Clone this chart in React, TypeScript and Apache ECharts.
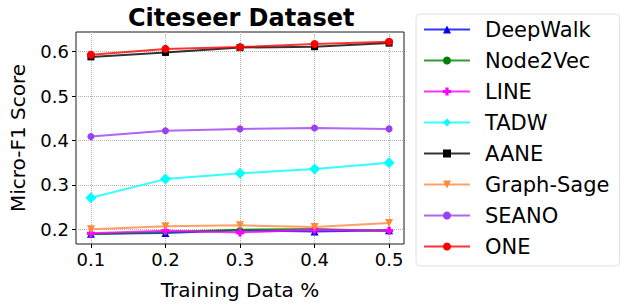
import React, { useEffect, useRef } from "react";
import * as echarts from "echarts";

const xValues = [0.1, 0.2, 0.3, 0.4, 0.5];
const xTicks = [0.1, 0.2, 0.3, 0.4, 0.5];
const yTicks = [0.2, 0.3, 0.4, 0.5, 0.6];

const deepWalk = [0.19, 0.192, 0.198, 0.195, 0.198];
const node2Vec = [0.189, 0.194, 0.199, 0.201, 0.196];
const lineAlg = [0.191, 0.197, 0.193, 0.199, 0.197];
const tadw = [0.271, 0.313, 0.326, 0.336, 0.35];
const aane = [0.588, 0.598, 0.609, 0.611, 0.619];
const graphSage = [0.2, 0.207, 0.209, 0.205, 0.214];
const seano = [0.409, 0.422, 0.426, 0.428, 0.426];
const one = [0.593, 0.606, 0.61, 0.617, 0.622];

const seriesNames = ["DeepWalk", "Node2Vec", "LINE", "TADW", "AANE", "Graph-Sage", "SEANO", "ONE"];
const seriesData = [deepWalk, node2Vec, lineAlg, tadw, aane, graphSage, seano, one];
const seriesColors = ["#0000ff", "#008000", "#ff00ff", "#00ffff", "#000000", "#ff8a3d", "#9a40f0", "#ff0000"];
const plusPath = "path://M3,0L7,0L7,3L10,3L10,7L7,7L7,10L3,10L3,7L0,7L0,3L3,3Z";
const triDown = "path://M0,0L10,0L5,9Z";
const seriesSymbols = ["triangle", "circle", plusPath, "diamond", "rect", triDown, "circle", "circle"];
const seriesSizes = [8, 6, 8, 11, 7, 8, 7, 8];

const FONT = "DejaVu Sans";

export default function App() {
  const ref = useRef<HTMLDivElement>(null);
  useEffect(() => {
    if (!ref.current) return;
    const chart = echarts.init(ref.current, undefined, { renderer: "svg" });
    const series = seriesNames.map((name, i) => ({
      name,
      type: "line",
      data: xValues.map((x, j) => [x, seriesData[i][j]]),
      symbol: seriesSymbols[i],
      symbolSize: seriesSizes[i],
      showSymbol: true,
      color: seriesColors[i],
      lineStyle: { width: 2, color: seriesColors[i], opacity: 0.8 },
      itemStyle: { color: seriesColors[i], opacity: 1 },
      emphasis: { disabled: true },
      z: 3 + i,
    }));
    chart.setOption({
      animation: false,
      title: {
        text: "Citeseer Dataset",
        left: 123,
        top: 1,
        textStyle: { fontFamily: FONT, fontSize: 24, fontWeight: "bold", color: "#000" },
      },
      grid: {
        left: 69,
        top: 32,
        right: 227,
        bottom: 55,
        show: true,
        borderColor: "#1a1a1a",
        borderWidth: 1,
        backgroundColor: "transparent",
      },
      legend: {
        orient: "vertical",
        left: 416,
        top: 14,
        padding: [5, 10, 9, 7],
        itemWidth: 46,
        itemHeight: 10,
        itemGap: 10,
        borderColor: "#e0e0e0",
        borderWidth: 1,
        borderRadius: 4,
        backgroundColor: "#fff",
        textStyle: {
          fontFamily: FONT,
          fontSize: 21,
          lineHeight: 21,
          color: "#000",
          padding: [0, 0, 0, 10],
        },
        data: seriesNames,
      },
      xAxis: {
        type: "value",
        min: 0.08,
        max: 0.52,
        name: "Training Data %",
        nameLocation: "middle",
        nameGap: 36,
        nameTextStyle: { fontFamily: FONT, fontSize: 20, color: "#000" },
        axisLine: { show: false },
        axisTick: { show: true, length: 4, inside: false, lineStyle: { color: "#000" }, customValues: xTicks },
        axisLabel: {
          fontFamily: FONT,
          fontSize: 18,
          color: "#000",
          margin: 6,
          customValues: xTicks,
          formatter: (v: number) => v.toFixed(1),
        },
        splitLine: { show: true, lineStyle: { color: "#b0b0b0", type: "dotted", width: 1 } },
      },
      yAxis: {
        type: "value",
        min: 0.167,
        max: 0.644,
        name: "Micro-F1 Score",
        nameLocation: "middle",
        nameGap: 48,
        nameTextStyle: { fontFamily: FONT, fontSize: 20, color: "#000" },
        axisLine: { show: false },
        axisTick: { show: true, length: 4, inside: false, lineStyle: { color: "#000" }, customValues: yTicks },
        axisLabel: {
          fontFamily: FONT,
          fontSize: 18,
          color: "#000",
          margin: 7,
          customValues: yTicks,
          formatter: (v: number) => v.toFixed(1),
        },
        splitLine: { show: true, lineStyle: { color: "#b0b0b0", type: "dotted", width: 1 } },
      },
      series,
    });
    return () => chart.dispose();
  }, []);
  return <div ref={ref} style={{ width: 631, height: 305, position: "absolute", left: 0, top: 0 }} />;
}
